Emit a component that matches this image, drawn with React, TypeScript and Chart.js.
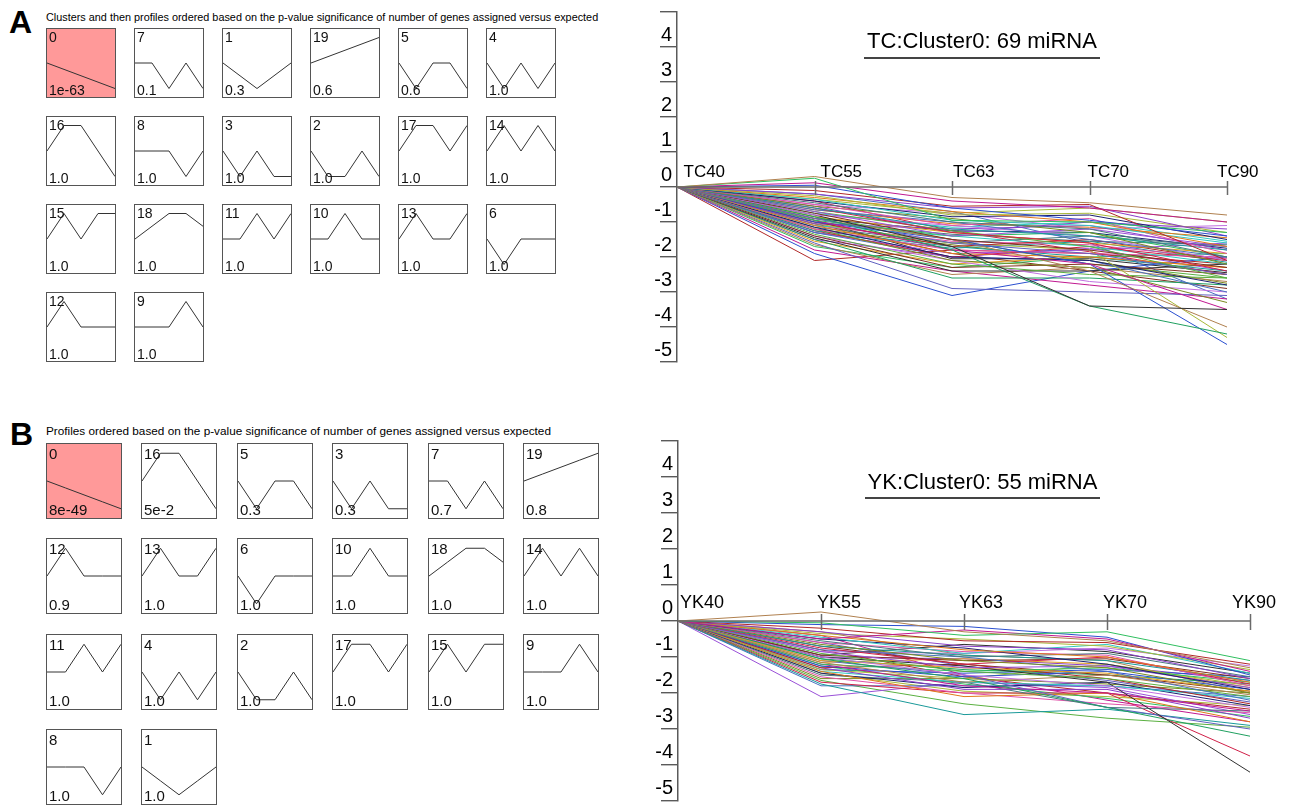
import React, { useEffect, useRef } from 'react';
import { Chart, registerables } from 'chart.js';

Chart.register(...registerables);

const FONT = '"Liberation Sans", Arial, Helvetica, sans-serif';

// ---------- data ----------
const tcLabels = ['TC40', 'TC55', 'TC63', 'TC70', 'TC90'];
const ykLabels = ['YK40', 'YK55', 'YK63', 'YK70', 'YK90'];

const tcTitle = 'TC:Cluster0: 69 miRNA';
const ykTitle = 'YK:Cluster0: 55 miRNA';

const headerA =
  'Clusters and then profiles ordered based on the p-value significance of number of genes assigned versus expected';
const headerB =
  'Profiles ordered based on the p-value significance of number of genes assigned versus expected';

// log-ratio profiles of the miRNAs assigned to TC cluster 0 (69 rows)
const tcSeries: number[][] = [
  [0, 0.3, -0.3, -0.45, -0.8],
  [0, 0.25, -0.95, -1.0, -1.3],
  [0, 0.12, -0.4, -0.6, -1.0],
  [0, 0.05, -0.6, -0.95, -1.4],
  [0, -0.1, -0.55, -0.5, -2.1],
  [0, -0.2, -0.6, -0.55, -1.4],
  [0, -0.25, -0.8, -0.75, -1.3],
  [0, -0.3, -0.7, -1.0, -1.7],
  [0, -0.35, -0.95, -1.1, -1.6],
  [0, -0.4, -0.85, -0.8, -1.5],
  [0, -0.45, -1.0, -1.2, -2.0],
  [0, -0.5, -1.1, -0.9, -1.9],
  [0, -0.55, -0.9, -1.3, -2.2],
  [0, -0.6, -1.2, -1.4, -1.8],
  [0, -0.6, -1.3, -1.6, -2.4],
  [0, -0.65, -1.0, -1.5, -2.0],
  [0, -0.7, -1.4, -1.2, -1.7],
  [0, -0.7, -1.25, -1.7, -2.6],
  [0, -0.75, -1.5, -1.8, -2.3],
  [0, -0.8, -1.1, -1.4, -2.1],
  [0, -0.8, -1.7, -3.4, -3.5],
  [0, -0.85, -1.8, -3.4, -4.2],
  [0, -0.85, -1.3, -1.6, -1.9],
  [0, -0.9, -1.6, -1.9, -2.5],
  [0, -0.9, -1.5, -2.4, -4.0],
  [0, -0.95, -1.4, -1.3, -2.0],
  [0, -0.95, -1.8, -2.2, -3.5],
  [0, -1.0, -1.5, -2.2, -4.5],
  [0, -1.0, -1.7, -1.5, -2.1],
  [0, -1.05, -1.2, -1.1, -1.8],
  [0, -1.05, -1.6, -1.8, -4.3],
  [0, -1.1, -1.9, -2.0, -2.3],
  [0, -1.1, -1.4, -1.7, -2.2],
  [0, -1.15, -2.0, -2.1, -2.8],
  [0, -1.15, -1.6, -1.4, -1.7],
  [0, -1.2, -1.8, -1.9, -2.0],
  [0, -1.2, -2.1, -2.3, -3.3],
  [0, -1.25, -1.7, -2.0, -2.4],
  [0, -1.25, -2.0, -1.7, -2.1],
  [0, -1.3, -2.0, -2.1, -3.0],
  [0, -1.3, -1.9, -1.8, -1.6],
  [0, -1.35, -2.2, -2.5, -2.6],
  [0, -1.4, -2.3, -2.2, -2.5],
  [0, -1.4, -2.1, -2.7, -3.0],
  [0, -1.45, -2.4, -2.4, -2.2],
  [0, -1.5, -2.6, -2.6, -2.8],
  [0, -1.55, -2.2, -2.0, -2.3],
  [0, -1.6, -2.9, -3.0, -3.1],
  [0, -1.65, -2.5, -2.3, -2.7],
  [0, -1.7, -2.3, -2.0, -1.9],
  [0, -1.8, -2.4, -2.8, -3.2],
  [0, -1.9, -3.1, -2.4, -2.0],
  [0, -2.1, -1.8, -1.9, -2.2],
  [0, -0.55, -1.3, -1.0, -1.2],
  [0, -0.35, -0.75, -0.6, -1.0],
  [0, -0.65, -1.05, -1.15, -1.45],
  [0, -0.75, -1.15, -1.0, -1.55],
  [0, -0.9, -1.25, -1.3, -1.75],
  [0, -1.0, -1.35, -1.55, -1.65],
  [0, -1.1, -1.55, -1.65, -2.05],
  [0, -1.2, -1.65, -2.1, -2.75],
  [0, -1.3, -1.75, -1.55, -2.15],
  [0, -0.4, -1.25, -1.85, -2.5],
  [0, -0.2, -0.7, -1.6, -3.2],
  [0, -1.5, -2.0, -1.75, -2.4],
  [0, -0.85, -1.5, -2.2, -2.6],
  [0, -1.05, -1.9, -2.4, -2.9],
  [0, -0.5, -0.75, -1.2, -1.1],
  [0, -0.95, -2.05, -2.05, -2.45],
];

// log-ratio profiles of the miRNAs assigned to YK cluster 0 (55 rows)
const ykSeries: number[][] = [
  [0, 0.25, -0.3, -0.55, -1.3],
  [0, -0.05, -0.4, -0.3, -1.1],
  [0, -0.5, -0.25, -0.5, -1.4],
  [0, -0.1, -0.15, -0.45, -1.5],
  [0, -0.2, -0.55, -0.6, -1.2],
  [0, -0.3, -0.7, -0.8, -1.6],
  [0, -0.35, -0.5, -0.7, -1.35],
  [0, -0.4, -0.8, -1.0, -1.7],
  [0, -0.45, -0.9, -0.65, -1.45],
  [0, -0.5, -0.75, -1.2, -1.9],
  [0, -0.55, -1.0, -0.9, -1.55],
  [0, -0.6, -0.85, -0.95, -1.8],
  [0, -0.65, -1.1, -1.3, -2.0],
  [0, -0.7, -0.95, -1.1, -1.65],
  [0, -0.75, -1.2, -1.0, -1.75],
  [0, -0.8, -1.0, -1.4, -2.2],
  [0, -0.85, -1.3, -1.25, -1.85],
  [0, -0.9, -1.4, -1.6, -2.1],
  [0, -0.95, -1.1, -1.05, -1.6],
  [0, -1.0, -1.5, -1.8, -2.4],
  [0, -1.0, -1.25, -1.7, -4.2],
  [0, -1.05, -1.6, -2.4, -3.2],
  [0, -1.1, -1.3, -1.45, -1.95],
  [0, -1.1, -1.5, -2.4, -3.0],
  [0, -1.15, -1.7, -1.5, -2.05],
  [0, -1.2, -1.4, -1.3, -1.7],
  [0, -1.2, -1.8, -2.0, -2.5],
  [0, -1.25, -1.55, -1.4, -1.9],
  [0, -1.3, -1.2, -1.6, -2.3],
  [0, -1.3, -1.9, -1.9, -2.7],
  [0, -1.35, -1.6, -1.2, -1.8],
  [0, -1.4, -2.1, -2.0, -2.8],
  [0, -1.4, -1.7, -1.8, -2.15],
  [0, -1.45, -1.85, -1.7, -2.35],
  [0, -1.5, -1.7, -2.4, -2.5],
  [0, -1.55, -2.0, -2.3, -2.55],
  [0, -1.6, -1.6, -1.75, -2.0],
  [0, -1.75, -2.6, -2.45, -2.9],
  [0, -1.7, -2.0, -2.0, -3.75],
  [0, -1.8, -1.8, -1.8, -2.1],
  [0, -2.1, -1.7, -1.85, -2.6],
  [0, -1.65, -2.3, -2.7, -2.95],
  [0, -0.7, -1.2, -1.5, -1.95],
  [0, -0.85, -0.9, -0.75, -1.25],
  [0, -0.95, -0.65, -0.85, -1.45],
  [0, -1.05, -1.35, -1.5, -1.75],
  [0, -1.15, -1.05, -1.2, -1.85],
  [0, -0.6, -1.25, -1.65, -2.25],
  [0, -0.3, -0.95, -1.1, -2.0],
  [0, -1.25, -1.75, -2.15, -2.65],
  [0, -0.4, -1.5, -2.2, -2.8],
  [0, -1.35, -1.45, -1.35, -1.55],
  [0, -0.8, -1.55, -2.0, -2.45],
  [0, -1.0, -1.05, -1.25, -1.65],
  [0, -1.45, -1.95, -2.1, -2.35],
];

// model profiles (indexed by profile id)
const profileShapes: number[][] = [
  [0, -1, -2, -3, -4], // 0
  [0, -1, -2, -1, 0], // 1
  [0, -1, -1, 0, -1], // 2
  [0, -1, 0, -1, -1], // 3
  [0, -1, 0, -1, 0], // 4
  [0, -1, 0, 0, -1], // 5
  [0, -1, 0, 0, 0], // 6
  [0, 0, -1, 0, -1], // 7
  [0, 0, 0, -1, 0], // 8
  [0, 0, 0, 1, 0], // 9
  [0, 0, 1, 0, 0], // 10
  [0, 0, 1, 0, 1], // 11
  [0, 1, 0, 0, 0], // 12
  [0, 1, 0, 0, 1], // 13
  [0, 1, 0, 1, 0], // 14
  [0, 1, 0, 1, 1], // 15
  [0, 1, 1, 0, -1], // 16
  [0, 1, 1, 0, 1], // 17
  [0, 1, 2, 2, 1], // 18
  [0, 1, 2, 3, 4], // 19
];

const orderA = [0, 7, 1, 19, 5, 4, 16, 8, 3, 2, 17, 14, 15, 18, 11, 10, 13, 6, 12, 9];
const pvalA = [
  '1e-63', '0.1', '0.3', '0.6', '0.6', '1.0',
  '1.0', '1.0', '1.0', '1.0', '1.0', '1.0',
  '1.0', '1.0', '1.0', '1.0', '1.0', '1.0',
  '1.0', '1.0',
];
const orderB = [0, 16, 5, 3, 7, 19, 12, 13, 6, 10, 18, 14, 11, 4, 2, 17, 15, 9, 8, 1];
const pvalB = [
  '8e-49', '5e-2', '0.3', '0.3', '0.7', '0.8',
  '0.9', '1.0', '1.0', '1.0', '1.0', '1.0',
  '1.0', '1.0', '1.0', '1.0', '1.0', '1.0',
  '1.0', '1.0',
];
const significantA = [0];
const significantB = [0];

const lineColors = [
  '#b0804f', '#2fbf5f', '#c01890', '#2a4fd0', '#b02828', '#8a3fc8', '#a8b838',
  '#e07a1a', '#30c8c0', '#1c2070', '#4a7a80', '#e050a8', '#7a8a20', '#1a9a9a',
  '#d02048', '#4a70c0', '#9a50d8', '#5ab040', '#803020', '#c070e0', '#303030',
  '#20a060', '#e0a020', '#6060c0',
];

// ---------- styling ----------
const smallA = { x0: 46, y0: 28, pitch: 88, size: 70, font: 14, numTop: 1, pBottom: 0 };
const smallB = { x0: 46, y0: 443, pitch: 95.4, size: 76, font: 15, numTop: 2, pBottom: 1 };

type XAxisOpts = {
  labels: string[];
  offsets: number[];
  fontSize: number;
  rise: number;
  tickUp: number;
  tickDown: number;
};

const xAxisAtZero = {
  id: 'xAxisAtZero',
  afterDatasetsDraw(chart: any, _args: any, opts: XAxisOpts) {
    const { ctx } = chart;
    const xs = chart.scales.x;
    const ys = chart.scales.y;
    const y0 = ys.getPixelForValue(0);
    const n = opts.labels.length;
    ctx.save();
    ctx.strokeStyle = '#6a6a6a';
    ctx.lineWidth = 1.5;
    ctx.beginPath();
    ctx.moveTo(xs.getPixelForValue(0), y0);
    ctx.lineTo(xs.getPixelForValue(n - 1), y0);
    ctx.stroke();
    for (let i = 1; i < n; i++) {
      const px = Math.round(xs.getPixelForValue(i)) + 0.5;
      ctx.beginPath();
      ctx.moveTo(px, y0 - opts.tickUp);
      ctx.lineTo(px, y0 + opts.tickDown);
      ctx.stroke();
    }
    ctx.fillStyle = '#000';
    ctx.font = `${opts.fontSize}px ${FONT}`;
    ctx.textAlign = 'left';
    ctx.textBaseline = 'alphabetic';
    for (let i = 0; i < n; i++) {
      ctx.fillText(opts.labels[i], xs.getPixelForValue(i) + opts.offsets[i], y0 - opts.rise);
    }
    ctx.restore();
  },
};

type BigProps = {
  series: number[][];
  labels: string[];
  left: number;
  top: number;
  width: number;
  height: number;
  axisWidth: number;
  padTop: number;
  padBottom: number;
  padRight: number;
  yLabelOffset: number;
  xAxis: Omit<XAxisOpts, 'labels'>;
};

function ProfileChart(p: BigProps) {
  const ref = useRef<HTMLCanvasElement>(null);
  useEffect(() => {
    const chart = new Chart(ref.current as HTMLCanvasElement, {
      type: 'line',
      data: {
        datasets: p.series.map((row, i) => ({
          data: row.map((v, j) => ({ x: j, y: v })),
          borderColor: lineColors[i % lineColors.length],
          borderWidth: 1,
          pointRadius: 0,
          tension: 0,
          fill: false,
        })),
      },
      options: {
        animation: false,
        responsive: false,
        events: [],
        layout: { padding: { top: p.padTop, bottom: p.padBottom, right: p.padRight, left: 0 } },
        plugins: {
          legend: { display: false },
          tooltip: { enabled: false },
          xAxisAtZero: { ...p.xAxis, labels: p.labels },
        } as any,
        scales: {
          x: { type: 'linear', min: 0, max: p.labels.length - 1, display: false },
          y: {
            type: 'linear',
            min: -5,
            max: 5,
            afterFit: (s: any) => {
              s.width = p.axisWidth;
            },
            ticks: {
              stepSize: 1,
              autoSkip: false,
              color: '#000',
              font: { family: FONT, size: 20 },
              padding: -12,
              labelOffset: p.yLabelOffset,
              callback: (v: any) => (Number(v) === 5 ? '' : String(v)),
            },
            grid: {
              drawOnChartArea: false,
              drawTicks: true,
              tickLength: 17,
              color: '#5a5a5a',
              lineWidth: 1.4,
            },
            border: { display: true, color: '#5a5a5a', width: 1.5 },
          },
        },
      } as any,
      plugins: [xAxisAtZero],
    });
    return () => chart.destroy();
  }, []);
  return (
    <canvas
      ref={ref}
      width={p.width}
      height={p.height}
      style={{ position: 'absolute', left: p.left, top: p.top, width: p.width, height: p.height }}
    />
  );
}

type SmallProps = {
  id: number;
  shape: number[];
  pval: string;
  highlight: boolean;
  left: number;
  top: number;
  size: number;
  font: number;
  numTop: number;
  pBottom: number;
};

function SmallProfile(p: SmallProps) {
  const ref = useRef<HTMLCanvasElement>(null);
  const inner = p.size - 2;
  useEffect(() => {
    const M = Math.max(...p.shape.map((v) => Math.abs(v))) || 1;
    const chart = new Chart(ref.current as HTMLCanvasElement, {
      type: 'line',
      data: {
        datasets: [
          {
            data: p.shape.map((v, i) => ({ x: i, y: v })),
            borderColor: '#333',
            borderWidth: 1,
            pointRadius: 0,
            tension: 0,
            fill: false,
          },
        ],
      },
      options: {
        animation: false,
        responsive: false,
        events: [],
        layout: { padding: 0 },
        plugins: { legend: { display: false }, tooltip: { enabled: false } },
        scales: {
          x: { type: 'linear', min: 0, max: p.shape.length - 1, display: false },
          y: { type: 'linear', min: -M / 0.75, max: M / 0.75, display: false },
        },
      } as any,
    });
    return () => chart.destroy();
  }, []);
  const textStyle: React.CSSProperties = {
    position: 'absolute',
    left: 2,
    fontFamily: FONT,
    fontSize: p.font,
    lineHeight: `${p.font}px`,
    color: '#111',
    whiteSpace: 'nowrap',
  };
  return (
    <div
      style={{
        position: 'absolute',
        left: p.left,
        top: p.top,
        width: p.size,
        height: p.size,
        boxSizing: 'border-box',
        border: '1px solid #555',
        background: p.highlight ? '#ff9999' : '#fff',
      }}
    >
      <canvas
        ref={ref}
        width={inner}
        height={inner}
        style={{ position: 'absolute', left: 0, top: 0, width: inner, height: inner }}
      />
      <div style={{ ...textStyle, top: p.numTop }}>{p.id}</div>
      <div style={{ ...textStyle, bottom: p.pBottom }}>{p.pval}</div>
    </div>
  );
}

function Grid(props: { order: number[]; pvals: string[]; sig: number[]; g: typeof smallA }) {
  const { order, pvals, sig, g } = props;
  return (
    <>
      {order.map((id, k) => (
        <SmallProfile
          key={id}
          id={id}
          shape={profileShapes[id]}
          pval={pvals[k]}
          highlight={sig.includes(id)}
          left={Math.round(g.x0 + (k % 6) * g.pitch)}
          top={Math.round(g.y0 + Math.floor(k / 6) * g.pitch)}
          size={g.size}
          font={g.font}
          numTop={g.numTop}
          pBottom={g.pBottom}
        />
      ))}
    </>
  );
}

const abs = (l: number, t: number, extra: React.CSSProperties = {}): React.CSSProperties => ({
  position: 'absolute',
  left: l,
  top: t,
  fontFamily: FONT,
  whiteSpace: 'nowrap',
  color: '#000',
  ...extra,
});

export default function App() {
  return (
    <div
      style={{
        position: 'fixed',
        left: 0,
        top: 0,
        width: 1290,
        height: 805,
        overflow: 'hidden',
        background: '#fff',
      }}
    >
      {/* Panel A */}
      <div style={abs(9, 6, { fontSize: 32, lineHeight: '32px', fontWeight: 'bold' })}>A</div>
      <div style={abs(46, 11.5, { fontSize: 10.85, lineHeight: '10.85px' })}>{headerA}</div>
      <Grid order={orderA} pvals={pvalA} sig={significantA} g={smallA} />
      <ProfileChart
        series={tcSeries}
        labels={tcLabels}
        left={620}
        top={0}
        width={660}
        height={380}
        axisWidth={57}
        padTop={12}
        padBottom={18}
        padRight={53}
        yLabelOffset={-12}
        xAxis={{ offsets: [6.5, 6, 1, -2, -10], fontSize: 17, rise: 10, tickUp: 6, tickDown: 8 }}
      />
      <div style={abs(864, 30, { width: 236, textAlign: 'center', fontSize: 22, lineHeight: '22px' })}>
        {tcTitle}
      </div>
      <div style={abs(864, 57, { width: 236, height: 2, background: '#444' })} />

      {/* Panel B */}
      <div style={abs(10, 418, { fontSize: 32, lineHeight: '32px', fontWeight: 'bold' })}>B</div>
      <div style={abs(46, 424.8, { fontSize: 11.77, lineHeight: '11.77px' })}>{headerB}</div>
      <Grid order={orderB} pvals={pvalB} sig={significantB} g={smallB} />
      <ProfileChart
        series={ykSeries}
        labels={ykLabels}
        left={620}
        top={420}
        width={660}
        height={400}
        axisWidth={58}
        padTop={21}
        padBottom={19}
        padRight={30}
        yLabelOffset={-13}
        xAxis={{ offsets: [2, -4, -5, -4, -18], fontSize: 18, rise: 13, tickUp: 7, tickDown: 9 }}
      />
      <div style={abs(865, 471, { width: 235, textAlign: 'center', fontSize: 22, lineHeight: '22px' })}>
        {ykTitle}
      </div>
      <div style={abs(865, 497, { width: 235, height: 2, background: '#444' })} />
    </div>
  );
}
